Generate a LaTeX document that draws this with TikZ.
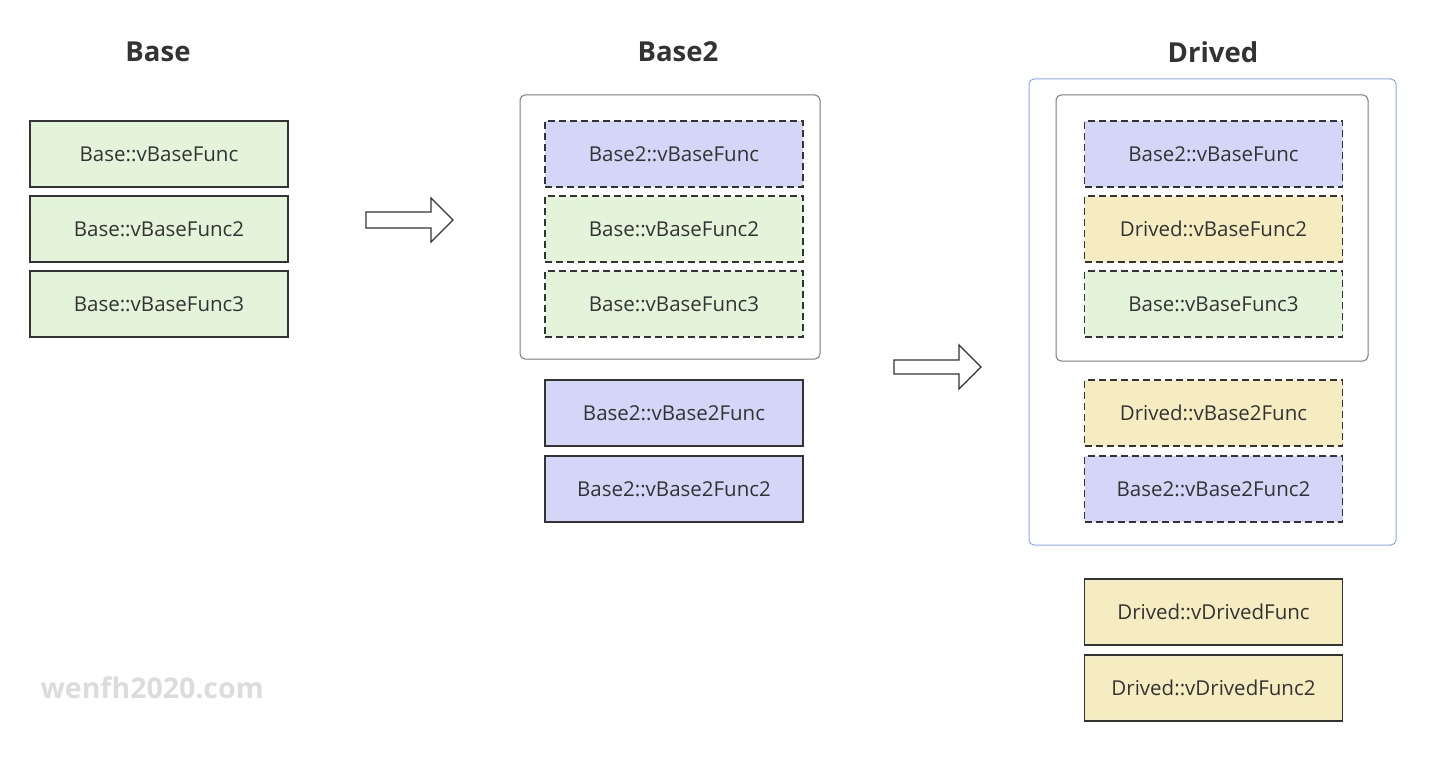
\documentclass[tikz,border=0pt]{standalone}
\usepackage{fontspec}
\setmainfont{Open Sans}
\usetikzlibrary{positioning}
\definecolor{ink}{HTML}{333333}
\definecolor{greenfill}{HTML}{E3F4DA}
\definecolor{bluefill}{HTML}{D4D6F7}
\definecolor{yellowfill}{HTML}{F5ECC1}
\definecolor{groupgray}{HTML}{7A7A7A}
\definecolor{groupblue}{HTML}{8FA3F2}
\definecolor{mark}{HTML}{DCDCDC}
\tikzset{
  fn/.style={draw=ink, line width=1.3pt, minimum width=258pt, minimum height=66pt,
             inner sep=0pt, text=ink, font=\fontsize{20.5}{24}\selectfont},
  dfn/.style={fn, dash pattern=on 7pt off 4pt},
  title/.style={text=ink, font=\bfseries\fontsize{27.5}{32}\selectfont},
  grp/.style={draw=groupgray, line width=1pt, rounded corners=5pt, inner sep=0pt},
  outergrp/.style={draw=groupblue, line width=1pt, rounded corners=5pt, inner sep=0pt},
  blockarrow/.style={draw=ink, line width=1.3pt, fill=white, line join=miter}
}
\begin{document}
\begin{tikzpicture}[x=1pt, y=-1pt]
\useasboundingbox (0,0) rectangle (1436,762);

% column titles
\node[title] (tbase)  at (158,52)  {Base};
\node[title] (tbase2) at (678,52)  {Base2};
\node[title] (tdrv)   at (1213,52) {Drived};

% Base vtable
\node[fn, fill=greenfill] (b1) at (159,154) {Base::vBaseFunc};
\node[fn, fill=greenfill] (b2) at (159,229) {Base::vBaseFunc2};
\node[fn, fill=greenfill] (b3) at (159,304) {Base::vBaseFunc3};

% Base2 vtable
\node[grp, minimum width=300pt, minimum height=264pt] (g2) at (670,227) {};
\node[dfn, fill=bluefill]  (c1) at (674,154) {Base2::vBaseFunc};
\node[dfn, fill=greenfill] (c2) at (674,229) {Base::vBaseFunc2};
\node[dfn, fill=greenfill] (c3) at (674,304) {Base::vBaseFunc3};
\node[fn, fill=bluefill]   (c4) at (674,413) {Base2::vBase2Func};
\node[fn, fill=bluefill]   (c5) at (674,489) {Base2::vBase2Func2};

% Drived vtable
\node[outergrp, minimum width=367pt, minimum height=466pt] (g3o) at (1212.5,312) {};
\node[grp, minimum width=312pt, minimum height=266pt] (g3i) at (1212,228) {};
\node[dfn, fill=bluefill]   (d1) at (1213.5,154) {Base2::vBaseFunc};
\node[dfn, fill=yellowfill] (d2) at (1213.5,229) {Drived::vBaseFunc2};
\node[dfn, fill=greenfill]  (d3) at (1213.5,304) {Base::vBaseFunc3};
\node[dfn, fill=yellowfill] (d4) at (1213.5,413) {Drived::vBase2Func};
\node[dfn, fill=bluefill]   (d5) at (1213.5,489) {Base2::vBase2Func2};
\node[fn, fill=yellowfill]  (d6) at (1213.5,612) {Drived::vDrivedFunc};
\node[fn, fill=yellowfill]  (d7) at (1213.5,688) {Drived::vDrivedFunc2};

% block arrows between the columns
\draw[blockarrow] (366,212) -- (431,212) -- (431,198) -- (453,220) -- (431,242)
  -- (431,228) -- (366,228) -- cycle;
\draw[blockarrow] (894,360) -- (959,360) -- (959,345) -- (981,367) -- (959,389)
  -- (959,374) -- (894,374) -- cycle;

% watermark
\node[text=mark, font=\bfseries\fontsize{28.5}{33}\selectfont, anchor=west] (wm) at (37,688) {wenfh2020.com};
\end{tikzpicture}
\end{document}
